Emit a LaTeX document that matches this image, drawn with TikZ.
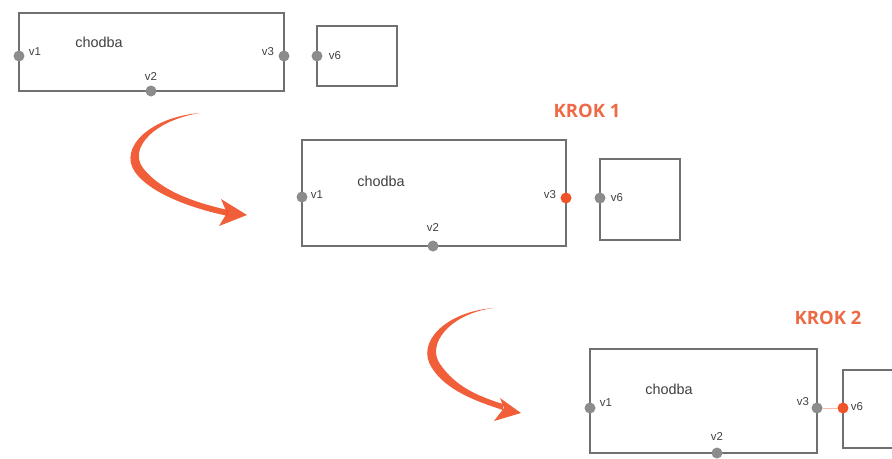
\documentclass[tikz,border=0pt]{standalone}
\usepackage{fontspec}
\setmainfont{Liberation Sans}
\newfontfamily\krokfont{Open Sans}
\usetikzlibrary{positioning}
\definecolor{wallgray}{HTML}{707070}
\definecolor{dotgray}{HTML}{8C8C8C}
\definecolor{krokorange}{HTML}{F0522A}
\definecolor{steporange}{HTML}{EC6A45}
\tikzset{
  room/.style={rectangle, draw=wallgray, line width=0.8pt, inner sep=0pt},
  door/.style={circle, fill=dotgray, inner sep=0pt, minimum size=0.22cm},
  hotdoor/.style={door, fill=krokorange},
  tag/.style={inner sep=0pt, font=\fontsize{6.5}{7}\selectfont, text=black!75},
  roomname/.style={inner sep=0pt, font=\fontsize{8.2}{9}\selectfont, text=black!75},
  steptitle/.style={inner sep=0pt, text=steporange, font=\krokfont\bfseries\fontsize{10.5}{12}\selectfont},
  brush/.style={fill=krokorange, opacity=0.92}
}

\begin{document}
\begin{tikzpicture}[x=0.02cm, y=-0.02cm]
    \clip (0,0) rectangle (892,458);
    \fill[white] (0,0) rectangle (892,458);
    % start
    \node[room, minimum width=5.3cm, minimum height=1.56cm] (a0) at (151.5,52) {};
    \node[room, minimum width=1.6cm, minimum height=1.2cm] (b0) at (357,56) {};
    \node[door] (a0v1) at (19,56) {};
    \node[door] (a0v2) at (151,91) {};
    \node[door] (a0v3) at (284,56) {};
    \node[door] (b0v6) at (317,56) {};
    \node[roomname] (a0n) at (99,42) {chodba};
    \node[tag] (a0t1) at (35,52) {v1};
    \node[tag] (a0t2) at (151,77) {v2};
    \node[tag] (a0t3) at (268,52) {v3};
    \node[tag] (b0t6) at (335,56) {v6};
    % krok 1
    \node[steptitle] (k1) at (587,111) {KROK 1};
    \node[room, minimum width=5.28cm, minimum height=2.12cm] (a1) at (434,193) {};
    \node[room, minimum width=1.6cm, minimum height=1.62cm] (b1) at (640,199.5) {};
    \node[door] (a1v1) at (302,197) {};
    \node[door] (a1v2) at (433,246) {};
    \node[hotdoor] (a1v3) at (566,198) {};
    \node[door] (b1v6) at (600,198) {};
    \node[roomname] (a1n) at (381,181) {chodba};
    \node[tag] (a1t1) at (317,195) {v1};
    \node[tag] (a1t2) at (433,228) {v2};
    \node[tag] (a1t3) at (550,195) {v3};
    \node[tag] (b1t6) at (617,198) {v6};
    % krok 2
    \node[steptitle] (k2) at (828,318) {KROK 2};
    \node[room, minimum width=4.54cm, minimum height=2.08cm] (a2) at (703.5,401) {};
    \node[room, minimum width=1.6cm, minimum height=1.56cm] (b2) at (883,409) {};
    \node[door] (a2v1) at (590,408) {};
    \node[door] (a2v2) at (717,453) {};
    \node[door] (a2v3) at (817,408) {};
    \node[hotdoor] (b2v6) at (843,408) {};
    \draw[krokorange!40, line width=0.4pt] (a2v3) -- (b2v6);
    \node[roomname] (a2n) at (669,389) {chodba};
    \node[tag] (a2t1) at (606,403) {v1};
    \node[tag] (a2t2) at (717,436) {v2};
    \node[tag] (a2t3) at (803,402) {v3};
    \node[tag] (b2t6) at (857,407) {v6};
    % arrows
    \fill[brush] (200,113) .. controls (150,117) and (118,148) .. (135,172)
      .. controls (150,193) and (190,208) .. (228,216) -- (228,210)
      .. controls (192,202) and (160,190) .. (143,168)
      .. controls (128,148) and (155,120) .. (200,113) -- cycle;
    \fill[brush] (247,215) -- (221,199) -- (227,213) -- (219,226) -- cycle;
    \fill[brush] (493,308) .. controls (445,312) and (415,343) .. (432,368)
      .. controls (446,390) and (475,401) .. (503,410) -- (503,404)
      .. controls (477,396) and (455,386) .. (440,364)
      .. controls (426,344) and (450,314) .. (493,308) -- cycle;
    \fill[brush] (521,413) -- (500,398) -- (504,408) -- (494,421) -- cycle;
  \end{tikzpicture}
\end{document}
